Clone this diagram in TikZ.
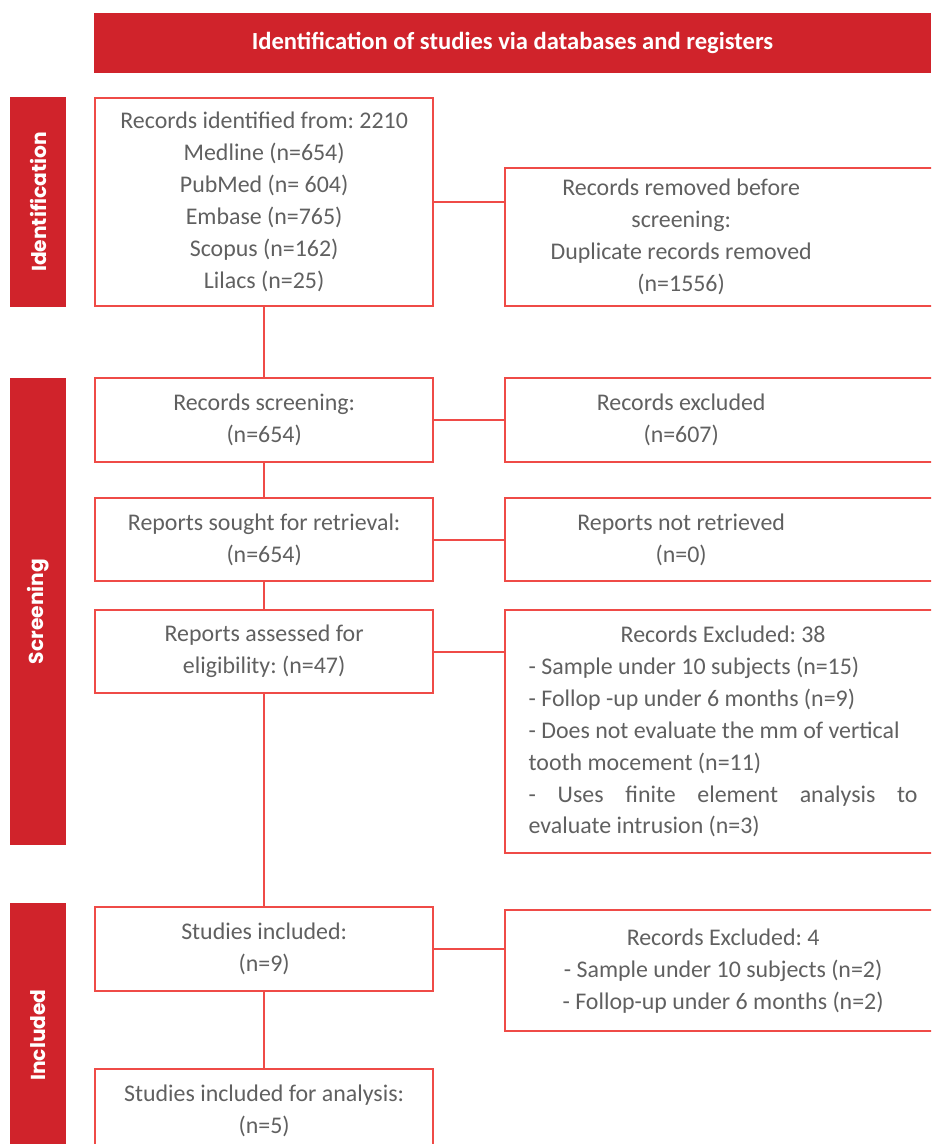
\documentclass[tikz,border=0pt]{standalone}
\usepackage{fontspec}
\setmainfont{Carlito}
\newfontfamily\sidefont{Poppins}
\usetikzlibrary{positioning}
\frenchspacing

\definecolor{barred}{HTML}{D0232B}
\definecolor{boxred}{HTML}{EF4B47}
\definecolor{txtgray}{HTML}{606060}

\newcommand{\pxl}{0.02cm}
\newcommand{\bodyfont}{\fontsize{13.6}{18.2}\selectfont}
\newlength{\rfourw}
\setlength{\rfourw}{7.78cm}
\newlength{\rboxshift}
\setlength{\rboxshift}{1.68cm}

\tikzset{
  header/.style={fill=barred, text=white, minimum width=837*\pxl, minimum height=60*\pxl,
                 font=\fontsize{14}{16}\selectfont\bfseries},
  sidebar/.style={fill=barred, text=white, rotate=90, minimum height=56*\pxl,
                  font=\sidefont\fontsize{11.5}{13}\selectfont\bfseries},
  lbox/.style={draw=boxred, line width=1.3pt, anchor=north west, minimum width=338*\pxl,
               align=center, text=txtgray, font=\bodyfont, inner sep=2pt},
  rbox/.style={lbox, minimum width=436*\pxl},
  link/.style={draw=boxred, line width=1.3pt}
}

\begin{document}
\begin{tikzpicture}[x=\pxl, y=-\pxl]
    \useasboundingbox (0,0) rectangle (931,1144);
    \clip (0,0) rectangle (931,1144);

    % header and phase bars
    \node [header] (head) at (512.5, 43) {Identification of studies via databases and registers};
    \node [sidebar, minimum width=210*\pxl] (sident) at (38, 202) {Identification};
    \node [sidebar, minimum width=467*\pxl] (sscreen) at (38, 611.5) {Screening};
    \node [sidebar, minimum width=264*\pxl] (sincl) at (38, 1035) {Included};

    % left column
    \node [lbox, minimum height=208*\pxl] (ident) at (94, 97)
        {Records identified from: 2210\\ Medline (n=654)\\ PubMed (n= 604)\\ Embase (n=765)\\ Scopus (n=162)\\ Lilacs (n=25)};
    \node [lbox, minimum height=84*\pxl] (screen) at (94, 377) {Records screening:\\ (n=654)};
    \node [lbox, minimum height=83*\pxl] (sought) at (94, 497) {Reports sought for retrieval:\\ (n=654)};
    \node [lbox, minimum height=83*\pxl] (assess) at (94, 609) {Reports assessed for\\ eligibility: (n=47)};
    \node [lbox, minimum height=84*\pxl] (incl) at (94, 906) {Studies included:\\ (n=9)};
    \node [lbox, minimum height=84*\pxl] (final) at (94, 1068) {Studies included for analysis:\\ (n=5)};

    % right column
    \node [rbox, minimum height=138*\pxl] (removed) at (504, 167)
        {\begin{tabular}{@{}c@{}}Records removed before\\ screening:\\ Duplicate records removed\\ (n=1556)\end{tabular}\hspace*{\rboxshift}};
    \node [rbox, minimum height=84*\pxl] (excl) at (504, 377)
        {\begin{tabular}{@{}c@{}}Records excluded\\ (n=607)\end{tabular}\hspace*{\rboxshift}};
    \node [rbox, minimum height=83*\pxl] (notret) at (504, 497)
        {\begin{tabular}{@{}c@{}}Reports not retrieved\\ (n=0)\end{tabular}\hspace*{\rboxshift}};
    \node [rbox, minimum height=243*\pxl] (exclA) at (504, 609)
        {\begin{tabular}{@{}l@{}}
         \hbox to \rfourw{\hfil Records Excluded: 38\hfil}\\
         - Sample under 10 subjects (n=15)\\
         - Follop -up under 6 months (n=9)\\
         - Does not evaluate the mm of vertical\\
         tooth mocement (n=11)\\
         \hbox to \rfourw{-\hfill Uses\hfill finite\hfill element\hfill analysis\hfill to}\\
         evaluate intrusion (n=3)
         \end{tabular}};
    \node [rbox, minimum height=121*\pxl] (exclB) at (504, 909)
        {Records Excluded: 4\\ - Sample under 10 subjects (n=2)\\ - Follop-up under 6 months (n=2)};

    % connectors
    \draw [link] (ident) -- (screen);
    \draw [link] (screen) -- (sought);
    \draw [link] (sought) -- (assess);
    \draw [link] (assess) -- (incl);
    \draw [link] (incl) -- (final);

    \draw [link] (ident.east) -- (ident.east -| removed.west);
    \draw [link] (screen.east) -- (screen.east -| excl.west);
    \draw [link] (sought.east) -- (sought.east -| notret.west);
    \draw [link] (assess.east) -- (assess.east -| exclA.west);
    \draw [link] (incl.east) -- (incl.east -| exclB.west);
\end{tikzpicture}
\end{document}
